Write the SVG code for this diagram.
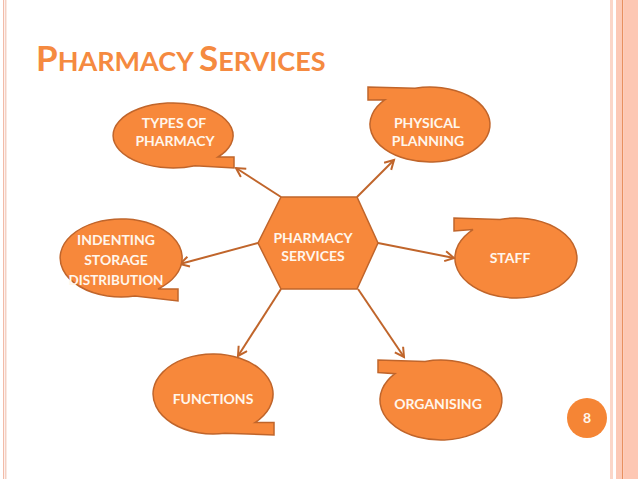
<svg xmlns="http://www.w3.org/2000/svg" width="638" height="479" viewBox="0 0 638 479">
<defs>
<style>
.node{fill:#f7883b;stroke:#c0652b;stroke-width:1.5}
.lbl{font-family:Lato,"Liberation Sans",sans-serif;font-weight:bold;font-size:14px;fill:#fff6ec;text-anchor:middle}
.conn{stroke:#c0652b;stroke-width:2;fill:none;marker-end:url(#arr)}
</style>
<marker id="arr" markerUnits="userSpaceOnUse" markerWidth="14" markerHeight="14" refX="10" refY="6" orient="auto">
<path d="M1,1 L10,6 L1,11" fill="none" stroke="#c0652b" stroke-width="2"/>
</marker>
</defs>
<rect width="638" height="479" fill="#ffffff"/>
<g id="border">
<rect x="3" y="0" width="1.2" height="479" fill="#f2bba8"/>
<rect x="5.2" y="0" width="1.2" height="479" fill="#f2c6b6"/>
<rect x="610" y="0" width="3" height="479" fill="#fbd6c8"/>
<rect x="616" y="0" width="6" height="479" fill="#fcc9b6"/>
<rect x="622" y="0" width="1.2" height="479" fill="#e8905f"/>
<rect x="623.2" y="0" width="15" height="479" fill="#fdc7b3"/>
</g>
<g id="title">
<text x="36" y="71" font-family="Lato,'Liberation Sans',sans-serif" font-weight="bold" fill="#f58a40"><tspan font-size="35">P</tspan><tspan font-size="27">HARMACY </tspan><tspan font-size="35">S</tspan><tspan font-size="27">ERVICES</tspan></text>
</g>
<g id="connectors">
<line class="conn" x1="281" y1="197" x2="236" y2="168"/>
<line class="conn" x1="357" y1="197" x2="394" y2="160"/>
<line class="conn" x1="378" y1="243" x2="454" y2="258"/>
<line class="conn" x1="258" y1="243" x2="180" y2="264"/>
<line class="conn" x1="281" y1="289" x2="238" y2="356"/>
<line class="conn" x1="358" y1="289" x2="404" y2="357"/>
</g>
<g id="center">
<polygon class="node" points="281,197 357,197 378,243 357,289 281,289 258,243"/>
<text class="lbl" x="313" y="243">PHARMACY</text>
<text class="lbl" x="313" y="261">SERVICES</text>
</g>
<g id="types">
<path class="node" d="M218,157 L234,157 L234,168 L195,165.7 A60 32.5 0 1 1 218,157 Z"/>
<text class="lbl" x="174" y="128">TYPES OF</text>
<text class="lbl" x="175" y="146">PHARMACY</text>
</g>
<g id="physical">
<path class="node" d="M415,88.2 L368,87 L368,100 L385,99.7 A60 37.5 0 1 0 415,88.2 Z"/>
<text class="lbl" x="427" y="128">PHYSICAL</text>
<text class="lbl" x="428" y="146">PLANNING</text>
</g>
<g id="staff">
<path class="node" d="M500,219.4 L454,218 L454,231 L473,229.6 A61 40 0 1 0 500,219.4 Z"/>
<text class="lbl" x="510" y="263">STAFF</text>
</g>
<g id="indenting">
<path class="node" d="M158,289 L178,289 L178,301 L135,295.9 A61 39 0 1 1 158,289 Z"/>
<text class="lbl" x="116" y="245">INDENTING</text>
<text class="lbl" x="116" y="265">STORAGE</text>
<text class="lbl" x="116" y="285" textLength="95" lengthAdjust="spacingAndGlyphs">DISTRIBUTION</text>
</g>
<g id="functions">
<path class="node" d="M255,422.6 L274,422.6 L274,435 L225,433.2 A60 40 0 1 1 255,422.6 Z"/>
<text class="lbl" x="213" y="404">FUNCTIONS</text>
</g>
<g id="organising">
<path class="node" d="M425,361.4 L378,360 L378,372.5 L395,373.7 A61 40 0 1 0 425,361.4 Z"/>
<text class="lbl" x="438" y="409">ORGANISING</text>
</g>
<g id="pagenum">
<circle cx="587" cy="418" r="20" fill="#f58535"/>
<text x="587" y="423" text-anchor="middle" font-family="Lato,'Liberation Sans',sans-serif" font-weight="bold" font-size="14" fill="#fff6ec">8</text>
</g>
</svg>
